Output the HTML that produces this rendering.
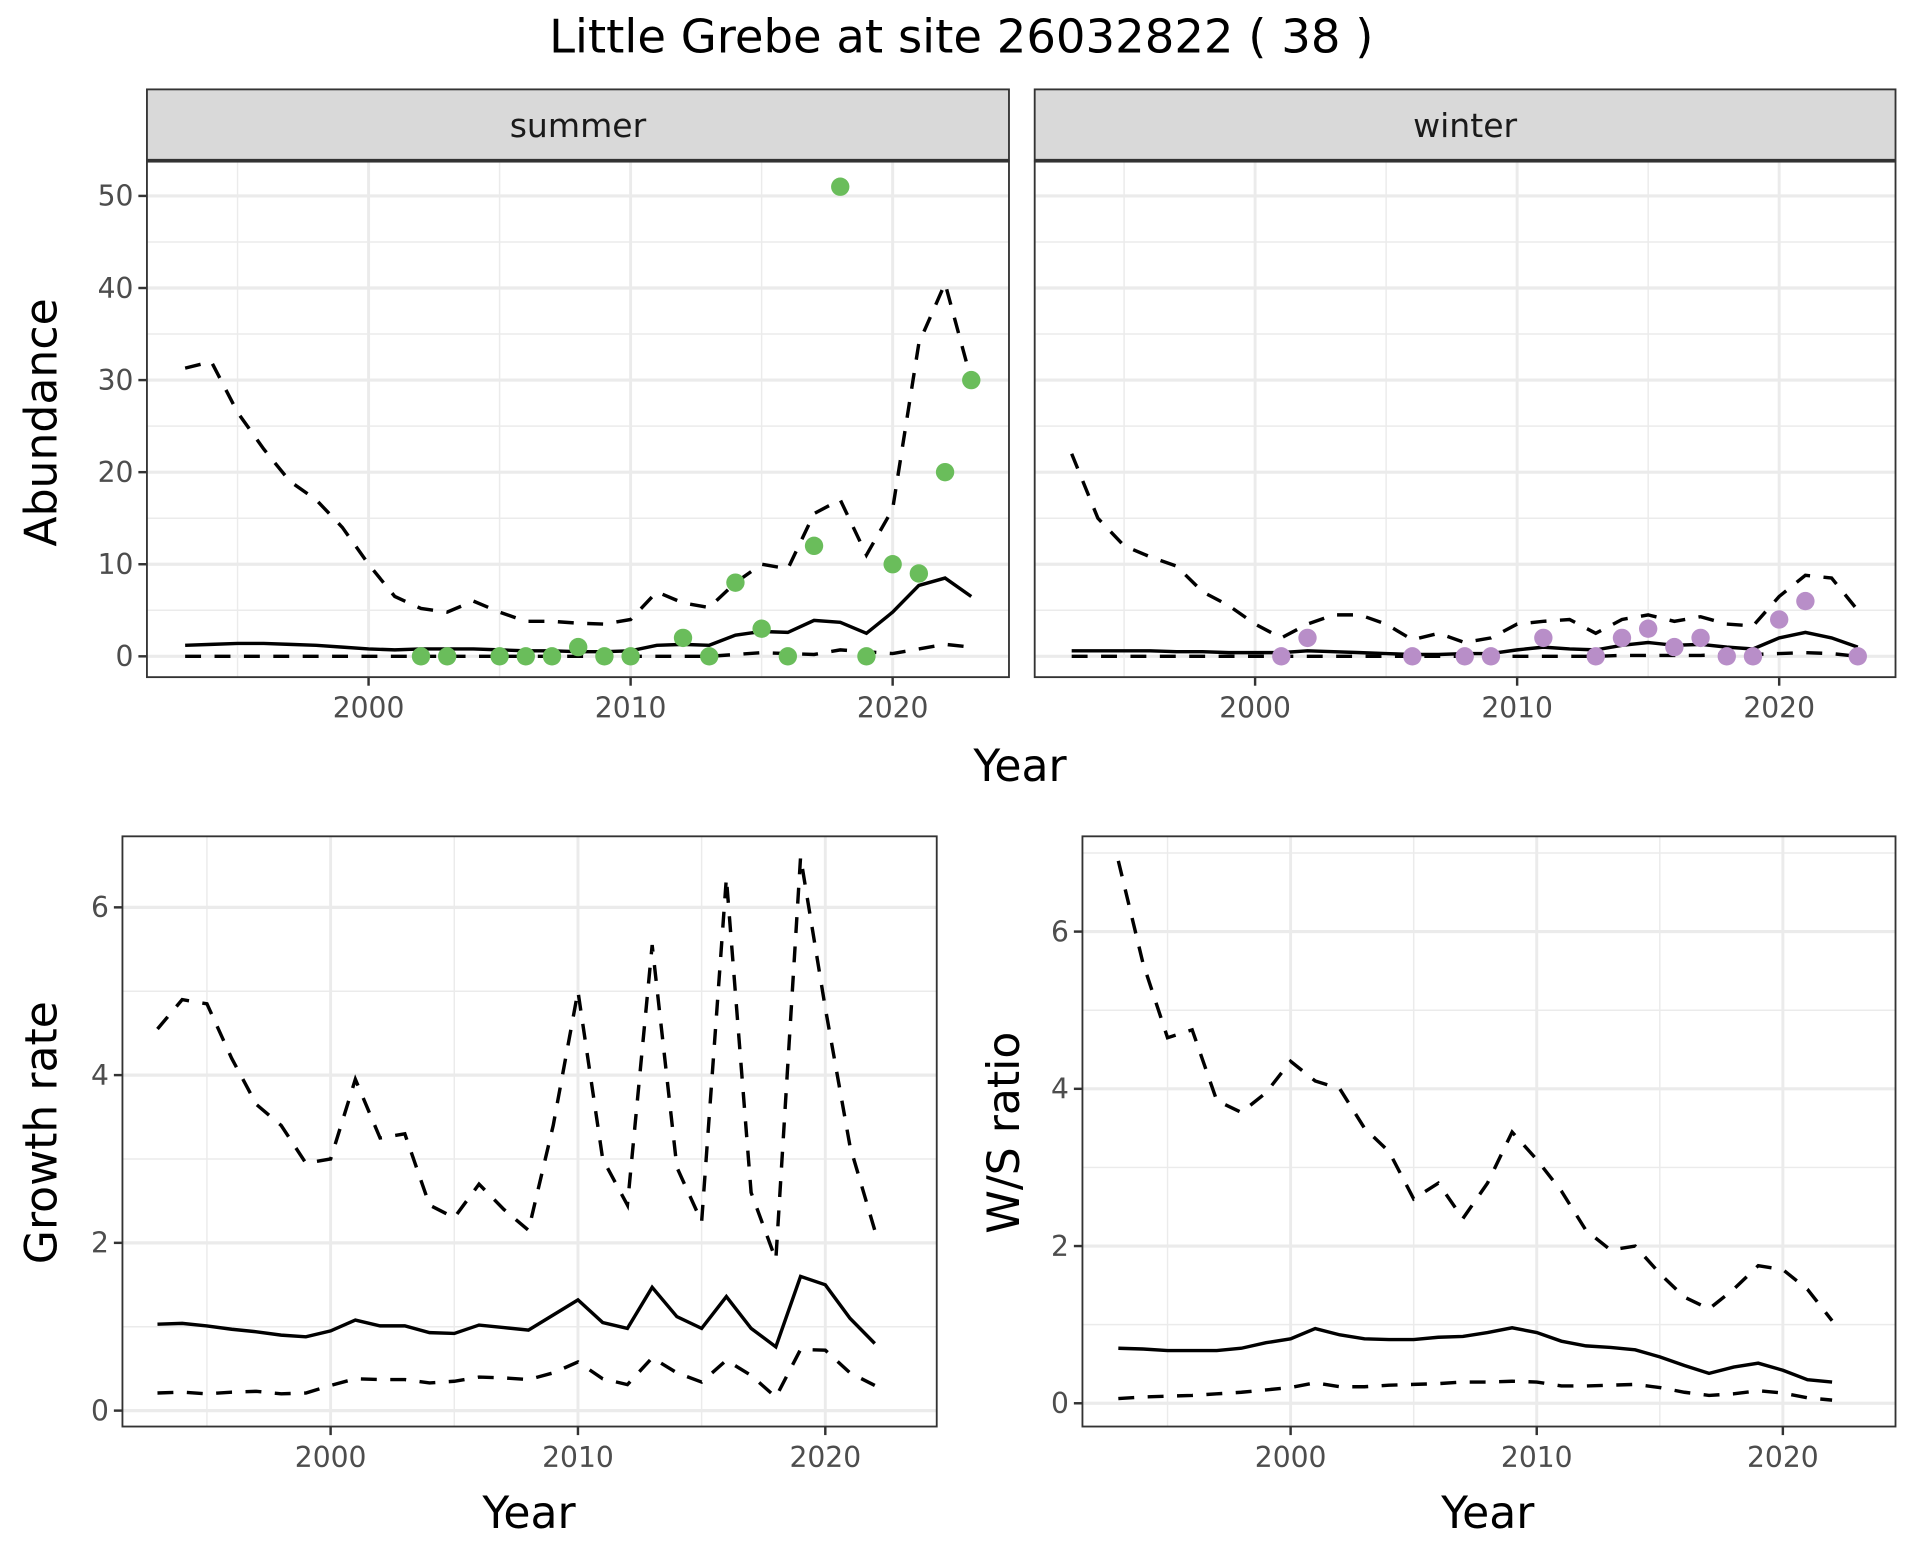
<!DOCTYPE html>
<html><head><meta charset="utf-8"><style>html,body{margin:0;padding:0;background:#fff}svg{display:block}</style></head>
<body>
<svg id="chart" xmlns="http://www.w3.org/2000/svg" width="1920" height="1560" viewBox="0 0 1568 1274" font-family="'DejaVu Sans','Liberation Sans',sans-serif">
<rect width="1568" height="1274" fill="#fff"/>
<text x="785" y="43" font-size="38" text-anchor="middle" fill="#000">Little Grebe at site 26032822 ( 38 )</text>
<g id="g"></g>
</svg>
<script>
const years31 = [1993,1994,1995,1996,1997,1998,1999,2000,2001,2002,2003,2004,2005,2006,2007,2008,2009,2010,2011,2012,2013,2014,2015,2016,2017,2018,2019,2020,2021,2022,2023];
const summerUpper = [31.3,32,26.5,22.5,19,17,14,10,6.5,5.2,4.8,6,4.8,3.8,3.8,3.6,3.5,4,7,5.8,5.3,8,10,9.5,15.5,17,11,16,34,40.5,30];
const summerMid = [1.2,1.3,1.4,1.4,1.3,1.2,1.0,0.8,0.7,0.8,0.8,0.8,0.7,0.6,0.6,0.5,0.5,0.6,1.2,1.3,1.2,2.3,2.7,2.6,3.9,3.7,2.5,4.8,7.7,8.5,6.5];
const summerLower = [0,0,0,0,0,0,0,0,0,0,0,0,0,0,0,0,0,0,0,0,0,0.2,0.4,0.3,0.2,0.7,0.5,0.3,0.8,1.3,1.0];
const summerPtYears = [2002,2003,2005,2006,2007,2008,2009,2010,2012,2013,2014,2015,2016,2017,2018,2019,2020,2021,2022,2023];
const summerPts = [0,0,0,0,0,1,0,0,2,0,8,3,0,12,51,0,10,9,20,30];
const winterUpper = [22,15,12,10.8,9.8,7,5.5,3.5,2,3.5,4.5,4.5,3.5,1.8,2.5,1.5,2,3.5,3.8,4,2.5,4,4.5,3.8,4.3,3.5,3.3,6.5,8.8,8.5,5];
const winterMid = [0.6,0.6,0.6,0.6,0.5,0.5,0.4,0.4,0.4,0.6,0.5,0.4,0.3,0.2,0.2,0.3,0.3,0.7,1.0,0.8,0.7,1.2,1.5,1.2,1.3,1.0,0.8,2.0,2.6,2.0,1.0];
const winterLower = [0,0,0,0,0,0,0,0,0,0,0,0,0,0,0,0,0,0,0,0,0,0.1,0.1,0.1,0.1,0.2,0.2,0.3,0.4,0.3,0];
const winterPtYears = [2001,2002,2006,2008,2009,2011,2013,2014,2015,2016,2017,2018,2019,2020,2021,2023];
const winterPts = [0,2,0,0,0,2,0,2,3,1,2,0,0,4,6,0];
const years30 = years31.slice(0,30);
const growthUpper = [4.55,4.9,4.85,4.2,3.65,3.4,2.95,3.0,3.95,3.25,3.3,2.45,2.3,2.7,2.4,2.15,3.4,5.0,3.0,2.45,5.55,2.9,2.25,6.35,2.6,1.8,6.6,4.8,3.15,2.15];
const growthMid = [1.03,1.04,1.01,0.97,0.94,0.9,0.88,0.95,1.08,1.01,1.01,0.93,0.92,1.02,0.99,0.96,1.14,1.32,1.05,0.98,1.47,1.12,0.98,1.36,0.98,0.76,1.6,1.5,1.1,0.8];
const growthLower = [0.21,0.22,0.2,0.22,0.23,0.2,0.21,0.3,0.38,0.37,0.37,0.33,0.35,0.4,0.39,0.37,0.45,0.58,0.38,0.31,0.63,0.45,0.34,0.6,0.42,0.16,0.73,0.72,0.45,0.3];
const wsUpper = [6.9,5.6,4.65,4.75,3.85,3.7,3.95,4.35,4.1,4.0,3.5,3.2,2.6,2.8,2.35,2.8,3.45,3.1,2.7,2.2,1.95,2.0,1.65,1.35,1.2,1.45,1.75,1.7,1.45,1.05];
const wsMid = [0.7,0.69,0.67,0.67,0.67,0.7,0.77,0.82,0.95,0.87,0.82,0.81,0.81,0.84,0.85,0.9,0.96,0.9,0.79,0.73,0.71,0.68,0.59,0.48,0.38,0.46,0.51,0.42,0.3,0.27];
const wsLower = [0.06,0.08,0.09,0.1,0.12,0.14,0.17,0.2,0.26,0.21,0.21,0.23,0.24,0.25,0.27,0.27,0.28,0.27,0.22,0.22,0.23,0.24,0.2,0.14,0.1,0.12,0.16,0.13,0.07,0.04];
const xTicks = [2000,2010,2020];
const topYTicks = [0,10,20,30,40,50];
const botYTicks = [0,2,4,6];

const NS='http://www.w3.org/2000/svg';
const G=document.getElementById('g');
function mk(tag,attrs,parent){const e=document.createElementNS(NS,tag);for(const k in attrs)e.setAttribute(k,attrs[k]);(parent||G).appendChild(e);return e;}

function panel(cfg){
  const {x0,x1,y0,y1,name}=cfg;
  const X=v=>cfg.xa+(v-2000)*cfg.xk, Y=v=>cfg.ya-v*cfg.yk;
  const grp=mk('g',{});
  
  
  mk('rect',{x:x0,y:y0,width:x1-x0,height:y1-y0,fill:'#fff'},grp);
  for(let yr=1990;yr<=2030;yr+=5){const px=X(yr);if(px>x0&&px<x1&&yr%10!==0)mk('line',{x1:px,x2:px,y1:y0,y2:y1,stroke:'#ebebeb','stroke-width':1.2},grp);}
  for(let v=-cfg.ystep/2;v<=cfg.ymax;v+=cfg.ystep){const py=Y(v);if(py>y0&&py<y1&&!cfg.yt.includes(v))mk('line',{x1:x0,x2:x1,y1:py,y2:py,stroke:'#ebebeb','stroke-width':1.2},grp);}
  xTicks.forEach(t=>{mk('line',{x1:X(t),x2:X(t),y1:y0,y2:y1,stroke:'#ebebeb','stroke-width':2.4},grp);});
  cfg.yt.forEach(t=>{mk('line',{x1:x0,x2:x1,y1:Y(t),y2:Y(t),stroke:'#ebebeb','stroke-width':2.6},grp);});
  const line=(xv,yv,dash,nm)=>{const p=mk('polyline',{points:xv.map((x,i)=>X(x)+','+Y(yv[i])).join(' '),fill:'none',stroke:'#000','stroke-width':2.8,'stroke-dasharray':dash?'13 11':'none'},grp);
    
    };
  cfg.lines.forEach(l=>line(l[0],l[1],l[2],l[3]));
  if(cfg.pts){cfg.pts[0].forEach((yr,i)=>{const c=mk('circle',{cx:X(yr),cy:Y(cfg.pts[1][i]),r:7.5,fill:cfg.pts[2]},grp);
    
    });}
  mk('rect',{x:x0,y:y0,width:x1-x0,height:y1-y0,fill:'none',stroke:'#333','stroke-width':1.5},grp);
  xTicks.forEach(t=>{mk('line',{x1:X(t),x2:X(t),y1:y1,y2:y1+7,stroke:'#333','stroke-width':2},grp);
    const tx=mk('text',{x:X(t),y:y1+33,'font-size':23,'text-anchor':'middle',fill:'#4d4d4d'},grp);tx.textContent=t;});
  if(cfg.showY){cfg.yt.forEach(t=>{mk('line',{x1:x0-7,x2:x0,y1:Y(t),y2:Y(t),stroke:'#333','stroke-width':2},grp);
    const tx=mk('text',{x:x0-11,y:Y(t)+8,'font-size':23,'text-anchor':'end',fill:'#4d4d4d'},grp);tx.textContent=t;});}
}
function strip(x0,x1,label){const r=mk('rect',{x:x0,y:73,width:x1-x0,height:58,fill:'#d9d9d9',stroke:'#333','stroke-width':1.5});
  
  
  mk('line',{x1:x0,x2:x1,y1:131,y2:131,stroke:'#333','stroke-width':2.5});
  const t=mk('text',{x:(x0+x1)/2,y:112,'font-size':27,'text-anchor':'middle',fill:'#1a1a1a'});t.textContent=label;}
function label(x,y,txt,rot,nm){const t=mk('text',{x:x,y:y,'font-size':36,'text-anchor':'middle',fill:'#000',transform:rot?`rotate(-90 ${x} ${y})`:''});t.textContent=txt;
  
  }

strip(120,824,'summer');strip(845,1548,'winter');
panel({name:'summer',x0:120,x1:824,y0:132,y1:553,xa:301,xk:21.4,ya:536,yk:7.52,yt:topYTicks,ystep:10,ymax:60,showY:true,
  lines:[[years31,summerUpper,true,'summer-upper-ci'],[years31,summerMid,false,'summer-trend'],[years31,summerLower,true,'summer-lower-ci']],pts:[summerPtYears,summerPts,'#6abd5b']});
panel({name:'winter',x0:845,x1:1548,y0:132,y1:553,xa:1025,xk:21.4,ya:536,yk:7.52,yt:topYTicks,ystep:10,ymax:60,showY:false,
  lines:[[years31,winterUpper,true,'winter-upper-ci'],[years31,winterMid,false,'winter-trend'],[years31,winterLower,true,'winter-lower-ci']],pts:[winterPtYears,winterPts,'#b88ec8']});
panel({name:'growth',x0:100,x1:765,y0:683,y1:1165,xa:270,xk:20.2,ya:1152,yk:68.5,yt:botYTicks,ystep:2,ymax:8,showY:true,
  lines:[[years30,growthUpper,true,'growth-upper-ci'],[years30,growthMid,false,'growth-trend'],[years30,growthLower,true,'growth-lower-ci']]});
panel({name:'ws-ratio',x0:884,x1:1548,y0:683,y1:1165,xa:1054,xk:20.1,ya:1146,yk:64.2,yt:botYTicks,ystep:2,ymax:8,showY:true,
  lines:[[years30,wsUpper,true,'ws-upper-ci'],[years30,wsMid,false,'ws-trend'],[years30,wsLower,true,'ws-lower-ci']]});

label(833,638,'Year',false,'top-x-axis-title');
label(432,1248,'Year',false,'growth-x-axis-title');
label(1215,1248,'Year',false,'ws-x-axis-title');
label(46,345,'Abundance',true,'abundance-y-axis-title');
label(46,925,'Growth rate',true,'growth-y-axis-title');
label(832,925,'W/S ratio',true,'ws-y-axis-title');
</script>
</body></html>
